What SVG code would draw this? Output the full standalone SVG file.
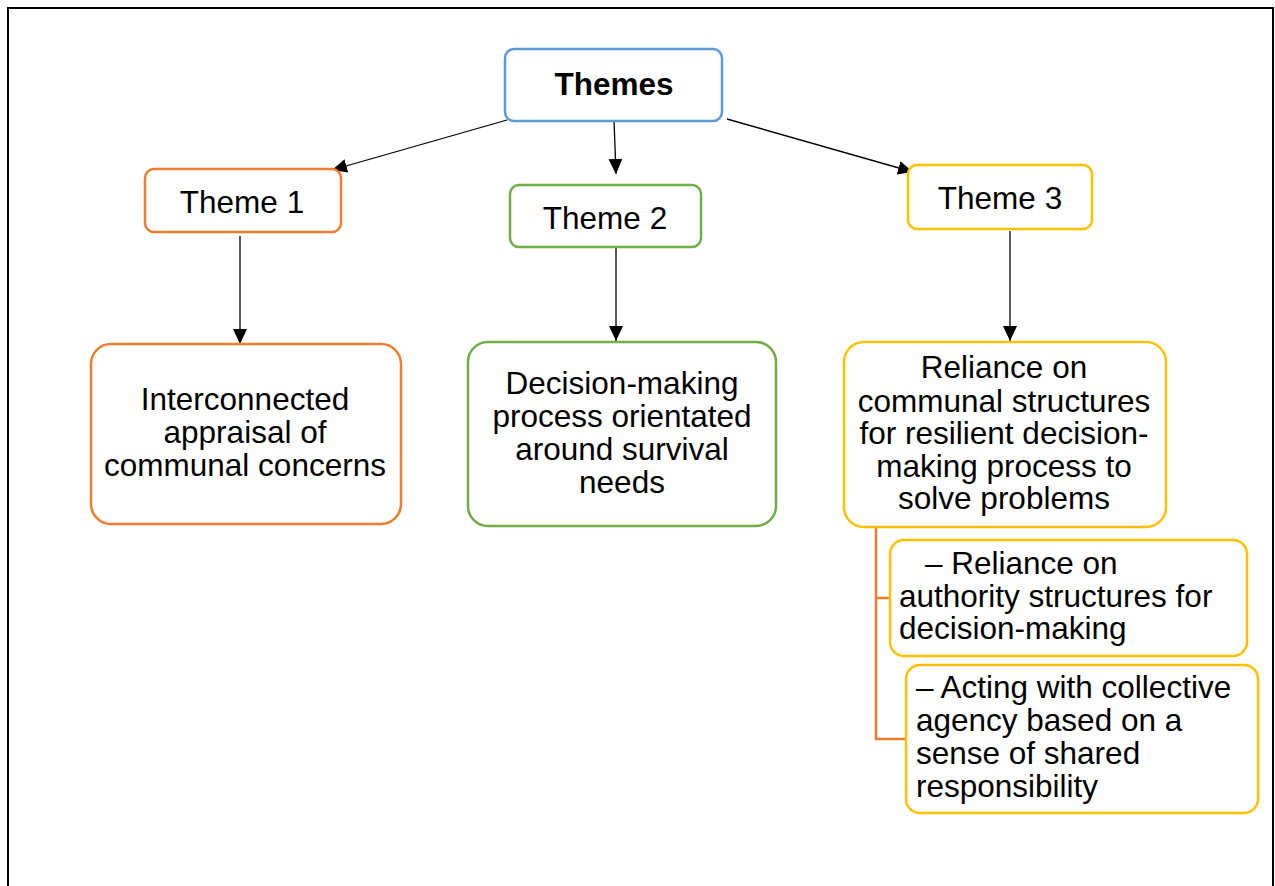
<svg xmlns="http://www.w3.org/2000/svg" width="1275" height="886" viewBox="0 0 1275 886">
  <style>
    .box { fill: #ffffff; stroke-width: 2.5; }
    .blue { stroke: #5B9BD5; }
    .orange { stroke: #ED7D31; }
    .green { stroke: #70AD47; }
    .yellow { stroke: #FFC000; }
    text { font-family: "Liberation Sans", Arial, sans-serif; font-size: 31.5px; fill: #000000; }
    .c { text-anchor: middle; }
    .b { font-weight: bold; }
    .arrow { stroke: #000000; stroke-width: 1.3; fill: none; marker-end: url(#head); }
    .branch { stroke: #ED7D31; stroke-width: 2.5; fill: none; }
  </style>
  <defs>
    <marker id="head" markerUnits="userSpaceOnUse" markerWidth="16" markerHeight="16" refX="15" refY="7" orient="auto">
      <path d="M0,0 L15,7 L0,14 Z" fill="#000000"/>
    </marker>
  </defs>

  <rect x="0" y="0" width="1275" height="886" fill="#ffffff"/>
  <!-- outer frame, open at the bottom -->
  <rect x="8" y="8" width="1265" height="900" fill="none" stroke="#000000" stroke-width="2"/>

  <g id="connectors">
    <line class="arrow" x1="507" y1="120" x2="332" y2="170"/>
    <line class="arrow" x1="614" y1="120" x2="616" y2="174"/>
    <line class="arrow" x1="727" y1="119" x2="913" y2="172"/>
    <line class="arrow" x1="240" y1="236" x2="240" y2="344"/>
    <line class="arrow" x1="616" y1="248" x2="616" y2="341"/>
    <line class="arrow" x1="1010" y1="231" x2="1010" y2="341"/>
    <polyline class="branch" points="876,528 876,739 906,739"/>
    <line class="branch" x1="876" y1="598" x2="890" y2="598"/>
  </g>

  <g id="themes">
    <rect class="box blue" x="505" y="49" width="217" height="72" rx="9"/>
    <text class="c b" x="614" y="95">Themes</text>
  </g>

  <g id="theme1">
    <rect class="box orange" x="145" y="169" width="196" height="63" rx="9"/>
    <text class="c" x="242" y="213">Theme 1</text>
  </g>

  <g id="theme2">
    <rect class="box green" x="510" y="185" width="191" height="62" rx="9"/>
    <text class="c" x="605" y="229">Theme 2</text>
  </g>

  <g id="theme3">
    <rect class="box yellow" x="908" y="165" width="184" height="64" rx="9"/>
    <text class="c" x="1000" y="209">Theme 3</text>
  </g>

  <g id="interconnected">
    <rect class="box orange" x="91" y="344" width="310" height="180" rx="20"/>
    <text class="c" x="245" y="410">Interconnected</text>
    <text class="c" x="245" y="443">appraisal of</text>
    <text class="c" x="245" y="476">communal concerns</text>
  </g>

  <g id="decision-making">
    <rect class="box green" x="468" y="342" width="308" height="184" rx="20"/>
    <text class="c" x="622" y="394">Decision-making</text>
    <text class="c" x="622" y="427">process orientated</text>
    <text class="c" x="622" y="460">around survival</text>
    <text class="c" x="622" y="493">needs</text>
  </g>

  <g id="reliance">
    <rect class="box yellow" x="844" y="342" width="322" height="185" rx="20"/>
    <text class="c" x="1004" y="378">Reliance on</text>
    <text class="c" x="1004" y="412">communal structures</text>
    <text class="c" x="1004" y="444">for resilient decision-</text>
    <text class="c" x="1004" y="477">making process to</text>
    <text class="c" x="1004" y="509">solve problems</text>
  </g>

  <g id="authority">
    <rect class="box yellow" x="890" y="540" width="357" height="116" rx="14"/>
    <text x="925" y="574">– Reliance on</text>
    <text x="899" y="607">authority structures for</text>
    <text x="899" y="639">decision-making</text>
  </g>

  <g id="collective-agency">
    <rect class="box yellow" x="906" y="665" width="352" height="148" rx="14"/>
    <text x="916" y="698">– Acting with collective</text>
    <text x="916" y="731">agency based on a</text>
    <text x="916" y="764">sense of shared</text>
    <text x="916" y="797">responsibility</text>
  </g>
</svg>
